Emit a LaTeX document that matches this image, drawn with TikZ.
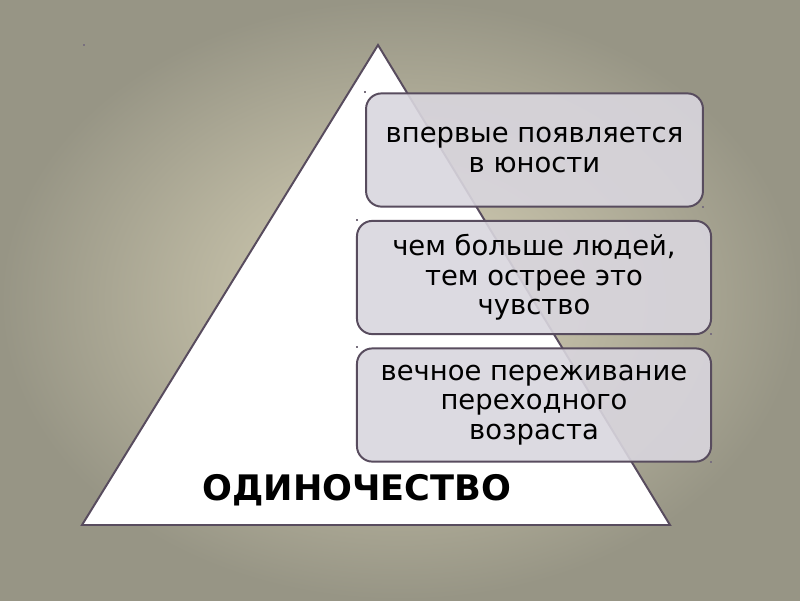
\documentclass[tikz,border=0pt]{standalone}
\usepackage{fontspec}
\setmainfont{DejaVu Sans}
\usepackage{xcolor}
\usepackage{tikz}

\definecolor{bgin}{HTML}{DAD4B9}
\definecolor{bgout}{HTML}{979585}
\definecolor{edgec}{HTML}{584C5E}
\definecolor{boxfill}{HTML}{D9D6DE}

\tikzset{
  infobox/.style={draw=edgec, line width=1.4pt, fill=boxfill, fill opacity=0.9, text opacity=1,
    rounded corners=11pt, align=center, font=\fontsize{19.5}{21}\selectfont,
    minimum height=2.83cm, inner sep=2pt},
  tinydot/.style={fill=edgec!80, inner sep=0pt, minimum size=1.6pt}
}

\begin{document}
\begin{tikzpicture}[x=0.025cm, y=-0.025cm]
\useasboundingbox (0,0) rectangle (800,600);
\shade[inner color=bgin, outer color=bgout] (0,0) rectangle (800,600);
% pyramid
\coordinate (top) at (378,45);
\coordinate (bl) at (82,525);
\coordinate (br) at (670,525);
\draw[edgec, line width=1.4pt, fill=white, line join=miter] (top) -- (br) -- (bl) -- cycle;
% boxes
\node[infobox, minimum width=8.42cm] (first) at (534.5,150) {впервые появляется\\в юности};
\node[infobox, minimum width=8.85cm] (more) at (534,277.5) {чем больше людей,\\тем острее это\\чувство};
\node[infobox, minimum width=8.85cm] (eternal) at (534,405) {вечное переживание\\переходного\\возраста};
\node[font=\fontsize{25}{28}\selectfont\bfseries] (title) at (357,490) {ОДИНОЧЕСТВО};
% small marks
\foreach \p in {(84,45),(365,92),(703,207),(357,220),(711,334),(357,347),(711,462)}
  \node[tinydot] at \p {};
\end{tikzpicture}
\end{document}
